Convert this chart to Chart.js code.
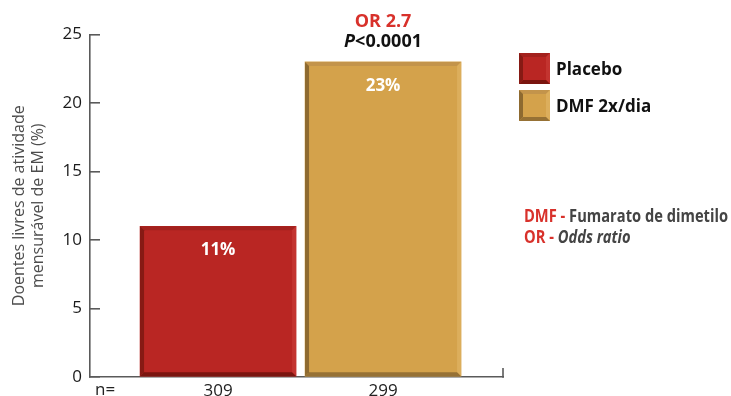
<!DOCTYPE html>
<html>
<head>
<meta charset="utf-8">
<script src="https://cdn.jsdelivr.net/npm/chart.js@4.4.1/dist/chart.umd.min.js"></script>
<style>
  html, body { margin: 0; padding: 0; background: #fff; }
  #wrap { width: 731px; height: 396px; position: relative; }
</style>
</head>
<body>
<div id="wrap"><canvas id="c" width="731" height="396"></canvas></div>
<script>
// ---- data ----
const groups = ['Placebo', 'DMF 2x/dia'];
const freePct = [11, 23];
const nPatients = ['309', '299'];
const yMin = 0, yMax = 25, yStep = 5;
const oddsRatioText = 'OR 2.7';
const pValueParts = ['P', '<0.0001'];
const glossary = [
  ['DMF - ', 'Fumarato de dimetilo', false],
  ['OR - ', 'Odds ratio', true]
];
const yTitle = ['Doentes livres de atividade', 'mensurável de EM (%)'];

// ---- style ----
const FONT = '"Open Sans", "DejaVu Sans", sans-serif';
const AXIS = '#5a5a5a';
const fills = ['#b92623', '#d4a24b'];
const bevels = [
  { top: '#a3211d', left: '#861a14', bottom: '#7a150f', right: '#c33430' },
  { top: '#c3944b', left: '#8e6a30', bottom: '#967135', right: '#dcae5c' }
];

function quad(ctx, pts, color) {
  ctx.beginPath();
  ctx.moveTo(pts[0][0], pts[0][1]);
  for (let i = 1; i < pts.length; i++) ctx.lineTo(pts[i][0], pts[i][1]);
  ctx.closePath();
  ctx.fillStyle = color;
  ctx.fill();
}

// raised-tile edges drawn over a filled rectangle
function bevelEdges(ctx, l, t, r, b, bev, w) {
  quad(ctx, [[l, t], [r, t], [r - w, t + w], [l + w, t + w]], bev.top);
  quad(ctx, [[r, t], [r, b], [r - w, b - w], [r - w, t + w]], bev.right);
  quad(ctx, [[l, b], [l + w, b - w], [r - w, b - w], [r, b]], bev.bottom);
  quad(ctx, [[l, t], [l + w, t + w], [l + w, b - w], [l, b]], bev.left);
}

const decorations = {
  id: 'decorations',
  afterDatasetsDraw(chart) {
    const ctx = chart.ctx;
    const meta = chart.getDatasetMeta(0);
    ctx.save();
    meta.data.forEach((bar, i) => {
      const p = bar.getProps(['x', 'y', 'base', 'width'], true);
      const l = p.x - p.width / 2, r = p.x + p.width / 2;
      bevelEdges(ctx, l, p.y, r, p.base, bevels[i], 4);
      // value label inside the bar
      ctx.fillStyle = '#ffffff';
      ctx.font = 'bold 17px ' + FONT;
      ctx.textAlign = 'center';
      ctx.textBaseline = 'middle';
      ctx.fillText(freePct[i] + '%', p.x, p.y + 24);
    });
    ctx.restore();
  },
  afterDraw(chart) {
    const ctx = chart.ctx;
    const area = chart.chartArea;
    const meta = chart.getDatasetMeta(0);
    ctx.save();

    // closing tick at the right end of the baseline
    ctx.strokeStyle = AXIS;
    ctx.lineWidth = 1.6;
    ctx.beginPath();
    ctx.moveTo(area.right, area.bottom + 0.8);
    ctx.lineTo(area.right, area.bottom - 9);
    ctx.stroke();

    // "n=" in front of the patient counts
    ctx.fillStyle = '#222';
    ctx.font = '17px ' + FONT;
    ctx.textAlign = 'left';
    ctx.textBaseline = 'top';
    ctx.fillText('n=', area.left + 5, area.bottom + 5);

    // odds ratio and p-value over the treatment bar
    const cx = meta.data[1].x;
    ctx.textAlign = 'center';
    ctx.textBaseline = 'middle';
    ctx.fillStyle = '#d8312b';
    ctx.font = 'bold 18px ' + FONT;
    ctx.fillText(oddsRatioText, cx, area.top - 13);

    ctx.fillStyle = '#111';
    const fItal = 'italic bold 18px ' + FONT;
    const fBold = 'bold 18px ' + FONT;
    ctx.font = fItal; const w1 = ctx.measureText(pValueParts[0]).width;
    ctx.font = fBold; const w2 = ctx.measureText(pValueParts[1]).width;
    const x0 = cx - (w1 + w2) / 2;
    ctx.textAlign = 'left';
    ctx.font = fItal; ctx.fillText(pValueParts[0], x0, area.top + 7);
    ctx.font = fBold; ctx.fillText(pValueParts[1], x0 + w1, area.top + 7);

    // legend
    groups.forEach((g, i) => {
      const top = 53 + i * 37;
      ctx.fillStyle = fills[i];
      ctx.fillRect(519, top, 31, 31);
      bevelEdges(ctx, 519, top, 550, top + 31, bevels[i], 4);
      ctx.fillStyle = '#111';
      ctx.font = 'bold 17px ' + FONT;
      ctx.textAlign = 'left';
      ctx.textBaseline = 'middle';
      ctx.fillText(g, 556, top + 17);
    });

    // abbreviations, set in a horizontally condensed bold face
    const gFont = sty => sty + 'bold 18px ' + FONT;
    ctx.font = gFont('');
    const firstW = ctx.measureText(glossary[0][0] + glossary[0][1]).width;
    const squeeze = 204 / firstW;
    glossary.forEach((row, i) => {
      const y = 217 + i * 21;
      ctx.save();
      ctx.translate(524, y);
      ctx.scale(squeeze, 1);
      ctx.textBaseline = 'middle';
      ctx.textAlign = 'left';
      ctx.font = gFont('');
      ctx.fillStyle = '#d8312b';
      ctx.fillText(row[0], 0, 0);
      const w = ctx.measureText(row[0]).width;
      ctx.font = gFont(row[2] ? 'italic ' : '');
      ctx.fillStyle = '#444';
      ctx.fillText(row[1], w, 0);
      ctx.restore();
    });
    ctx.restore();
  }
};

new Chart(document.getElementById('c'), {
  type: 'bar',
  data: {
    datasets: [{
      label: 'Doentes livres de atividade (%)',
      data: freePct.map((v, i) => ({ x: i, y: v })),
      backgroundColor: fills,
      borderWidth: 0,
      barThickness: 156
    }]
  },
  options: {
    responsive: false,
    animation: false,
    events: [],
    layout: { padding: { top: 34.5, right: 228, left: 0, bottom: 0 } },
    plugins: { legend: { display: false }, tooltip: { enabled: false } },
    scales: {
      x: {
        type: 'linear',
        offset: false,
        min: -0.776,
        max: 1.727,
        afterBuildTicks: s => { s.ticks = nPatients.map((_, i) => ({ value: i })); },
        afterFit: s => { s.height = 19; },
        grid: { display: false, drawTicks: false, offset: false },
        border: { color: AXIS, width: 1.6 },
        ticks: {
          callback: (v, i) => nPatients[i],
          font: { family: FONT, size: 17 },
          color: '#222',
          padding: 4,
          maxRotation: 0,
          autoSkip: false
        }
      },
      y: {
        min: yMin,
        max: yMax,
        // fixed axis width; label overhang only needs half a line above and below
        afterFit: s => { s.width = 90; s.paddingTop = 10; s.paddingBottom = 0; },
        ticks: {
          stepSize: yStep,
          font: { family: FONT, size: 17 },
          color: '#1a1a1a',
          padding: 18
        },
        grid: { drawOnChartArea: false, tickLength: -10, color: AXIS, lineWidth: 1.6 },
        border: { color: AXIS, width: 1.6 },
        title: {
          display: true,
          text: yTitle,
          font: { family: FONT, size: 16, lineHeight: 1.2 },
          color: '#4d4d4d',
          padding: { top: 10, bottom: 0 }
        }
      }
    }
  },
  plugins: [decorations]
});
</script>
</body>
</html>
